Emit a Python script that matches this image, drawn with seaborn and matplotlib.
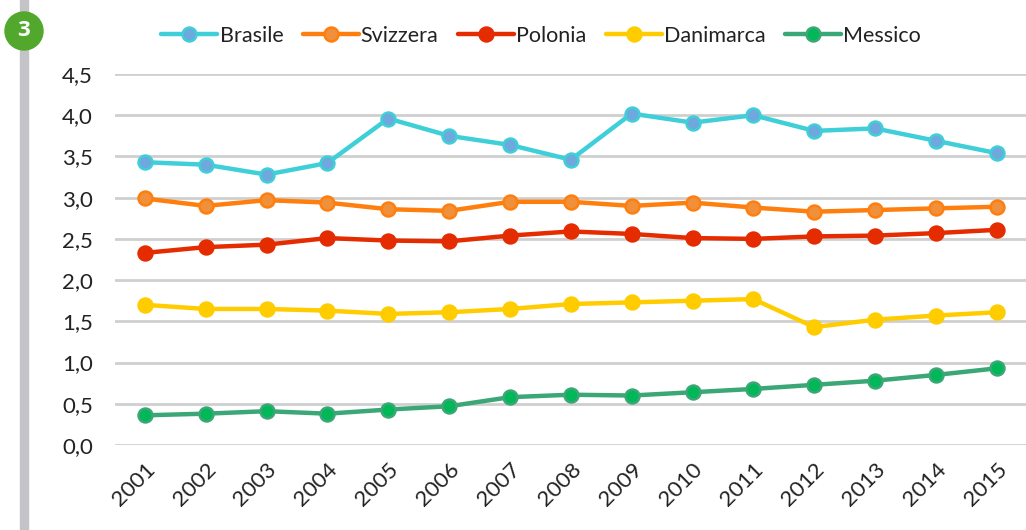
import matplotlib
matplotlib.use("Agg")
import matplotlib.pyplot as plt
import matplotlib.ticker as mticker
import seaborn as sns
import pandas as pd

# data
years = list(range(2001, 2016))
brasile = [3.43, 3.40, 3.28, 3.42, 3.96, 3.75, 3.64, 3.46, 4.02, 3.91, 4.00, 3.81, 3.84, 3.69, 3.54]
svizzera = [2.99, 2.90, 2.97, 2.94, 2.86, 2.84, 2.95, 2.95, 2.90, 2.94, 2.88, 2.83, 2.85, 2.87, 2.89]
polonia = [2.33, 2.40, 2.43, 2.51, 2.48, 2.47, 2.54, 2.59, 2.56, 2.51, 2.50, 2.53, 2.54, 2.57, 2.61]
danimarca = [1.70, 1.65, 1.65, 1.63, 1.59, 1.61, 1.65, 1.71, 1.73, 1.75, 1.77, 1.43, 1.52, 1.57, 1.61]
messico = [0.36, 0.38, 0.41, 0.38, 0.43, 0.47, 0.58, 0.61, 0.60, 0.64, 0.68, 0.73, 0.78, 0.85, 0.93]

countries = ["Brasile", "Svizzera", "Polonia", "Danimarca", "Messico"]
series = [brasile, svizzera, polonia, danimarca, messico]
line_colors = ["#3ECFD8", "#FF7F0E", "#E52B00", "#FFCC00", "#3BA776"]
face_colors = ["#6FA8DC", "#F0903A", "#E52B00", "#FFCC00", "#00B857"]

rows = []
for name, vals in zip(countries, series):
    for y, v in zip(years, vals):
        rows.append({"Anno": y, "Valore": v, "Paese": name})
df = pd.DataFrame(rows)

sns.set_style("white")
plt.rcParams["font.family"] = ["Lato", "DejaVu Sans"]

fig = plt.figure(figsize=(10.26, 5.30), dpi=100)
ax = fig.add_axes([115 / 1026, 1 - 445 / 530, 1 - 115 / 1026, (445 - 74) / 530])

for name, lc, fc in zip(countries, line_colors, face_colors):
    sub = df[df["Paese"] == name]
    sns.lineplot(data=sub, x="Anno", y="Valore", ax=ax, color=lc, lw=3.2,
                 marker="o", markersize=10, markerfacecolor=fc,
                 markeredgecolor=lc, markeredgewidth=1.8, label=name,
                 zorder=3)

ax.set_ylim(0, 4.5)
ax.set_xlim(2000.51, 2015.48)
ax.set_yticks([i * 0.5 for i in range(10)])
ax.yaxis.set_major_formatter(mticker.FuncFormatter(lambda v, p: f"{v:.1f}".replace(".", ",")))
ax.set_xticks(years)
ax.set_xticklabels([str(y) for y in years], rotation=45, ha="right",
                   rotation_mode="anchor")
ax.tick_params(axis="x", labelsize=16, colors="#222222", pad=10, length=0)
ax.tick_params(axis="y", labelsize=16, colors="#222222", pad=16, length=0)
ax.grid(axis="y", color="#CFCFCF", lw=2)
ax.set_axisbelow(True)
for s in ax.spines.values():
    s.set_visible(False)
ax.set_xlabel("")
ax.set_ylabel("")

leg = ax.legend(loc="center", bbox_to_anchor=(541 / 1026, 1 - 36 / 530),
                bbox_transform=fig.transFigure, ncol=5, frameon=False,
                fontsize=15.5, handlelength=2.6, columnspacing=0.9,
                handletextpad=0.1)
for t in leg.get_texts():
    t.set_color("#222222")

# gray side bar and numbered badge
fig.patches.append(plt.Rectangle((20 / 1026, 0), 8 / 1026, 1,
                                 transform=fig.transFigure, color="#C4C4C8", zorder=0))
fig.patches.append(matplotlib.patches.Ellipse((24 / 1026, 1 - 31 / 530), 38 / 1026, 38 / 530,
                                              transform=fig.transFigure, color="#52A72D", zorder=1))
fig.text(24 / 1026, 1 - 31 / 530, "3", color="white", fontsize=16, fontweight="bold",
         ha="center", va="center", family=["Open Sans", "DejaVu Sans"])

fig.savefig("out.png", dpi=100)
